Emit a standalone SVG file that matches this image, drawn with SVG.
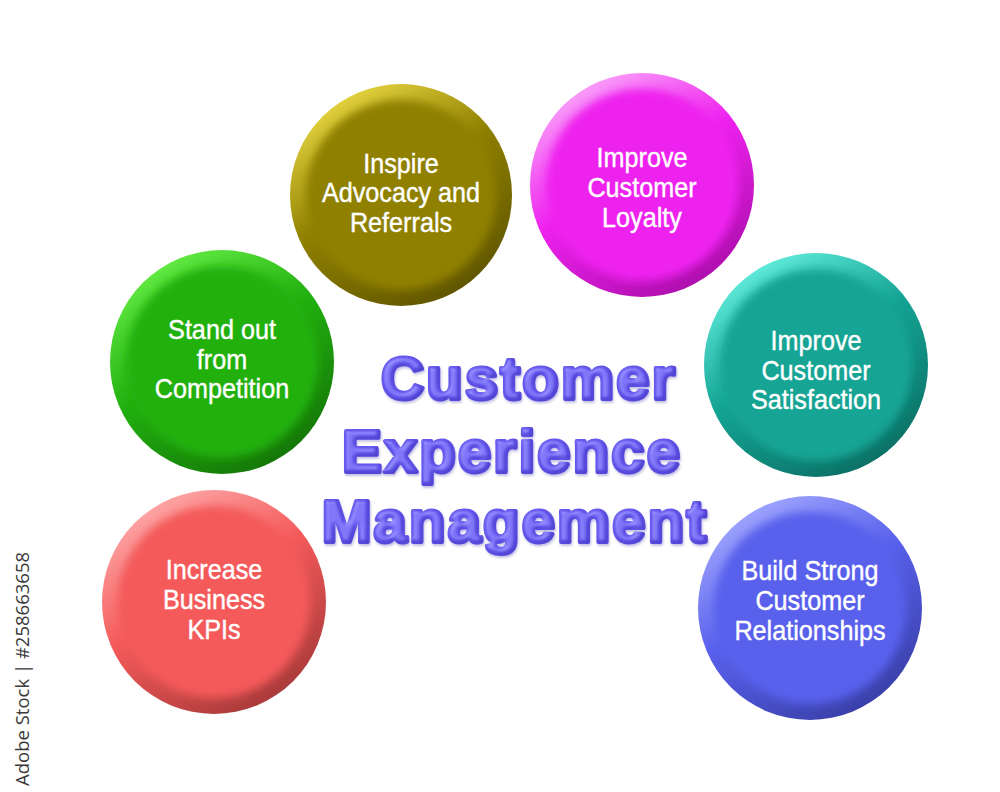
<svg xmlns="http://www.w3.org/2000/svg" width="1000" height="792" viewBox="0 0 1000 792">
<defs>
  <style>
    .lbl { font-family: "Liberation Sans", Arial, sans-serif; font-size: 28px; fill: #ffffff; text-anchor: middle; stroke: #ffffff; stroke-width: 0.4; }
    .ttl { font-family: "Liberation Sans", Arial, sans-serif; font-weight: bold; font-size: 60px; letter-spacing: 2px; text-anchor: middle; fill: #6456ee; stroke: #6456ee; stroke-width: 4; stroke-linejoin: round; stroke-linecap: round; }
    .wm { font-family: "Open Sans", "Noto Sans", sans-serif; font-size: 18.5px; fill: #3a3a3a; }
  </style>
  <filter id="soft" x="-10%" y="-10%" width="120%" height="120%">
    <feGaussianBlur stdDeviation="4"/>
  </filter>
  <filter id="bevel" x="-5%" y="-20%" width="110%" height="150%">
    <feGaussianBlur in="SourceAlpha" stdDeviation="2" result="b"/>
    <feOffset in="b" dx="-2" dy="-2.5" result="bo"/>
    <feComposite in="SourceAlpha" in2="bo" operator="out" result="edge"/>
    <feGaussianBlur in="edge" stdDeviation="1.2" result="edgeB"/>
    <feFlood flood-color="#2e22a8" flood-opacity="0.7" result="dk"/>
    <feComposite in="dk" in2="edgeB" operator="in" result="dk2"/>
    <feComposite in="dk2" in2="SourceAlpha" operator="in" result="inner"/>
    <feSpecularLighting in="b" surfaceScale="3" specularConstant="0.5" specularExponent="14" lighting-color="#ffffff" result="s">
      <feDistantLight azimuth="225" elevation="55"/>
    </feSpecularLighting>
    <feComposite in="s" in2="SourceAlpha" operator="in" result="sIn"/>
    <feComposite in="SourceGraphic" in2="sIn" operator="arithmetic" k1="0" k2="1" k3="0.35" k4="0" result="lit"/>
    <feOffset in="SourceAlpha" dx="1" dy="2" result="off"/>
    <feGaussianBlur in="off" stdDeviation="1.2" result="offB"/>
    <feFlood flood-color="#3a30a0" flood-opacity="0.3" result="fc"/>
    <feComposite in="fc" in2="offB" operator="in" result="sh"/>
    <feMerge><feMergeNode in="sh"/><feMergeNode in="lit"/><feMergeNode in="inner"/></feMerge>
  </filter>
  <linearGradient id="rOlive" x1="0.2" y1="0" x2="0.8" y2="1">
    <stop offset="0" stop-color="#f0de48"/><stop offset="0.45" stop-color="#8f8000"/><stop offset="1" stop-color="#5a5000"/>
  </linearGradient>
  <linearGradient id="rMag" x1="0.2" y1="0" x2="0.8" y2="1">
    <stop offset="0" stop-color="#fbb0fb"/><stop offset="0.45" stop-color="#ee22ee"/><stop offset="1" stop-color="#a60ca6"/>
  </linearGradient>
  <linearGradient id="rGreen" x1="0.2" y1="0" x2="0.8" y2="1">
    <stop offset="0" stop-color="#6cf24a"/><stop offset="0.45" stop-color="#22b010"/><stop offset="1" stop-color="#137006"/>
  </linearGradient>
  <linearGradient id="rTeal" x1="0.2" y1="0" x2="0.8" y2="1">
    <stop offset="0" stop-color="#6af4e4"/><stop offset="0.45" stop-color="#14a494"/><stop offset="1" stop-color="#0a6a60"/>
  </linearGradient>
  <linearGradient id="rRed" x1="0.2" y1="0" x2="0.8" y2="1">
    <stop offset="0" stop-color="#ffb0b0"/><stop offset="0.45" stop-color="#f45a5a"/><stop offset="1" stop-color="#a03636"/>
  </linearGradient>
  <linearGradient id="rBlue" x1="0.2" y1="0" x2="0.8" y2="1">
    <stop offset="0" stop-color="#a8aeff"/><stop offset="0.45" stop-color="#5860ec"/><stop offset="1" stop-color="#363ca0"/>
  </linearGradient>
</defs>
<rect width="1000" height="792" fill="#ffffff"/>

<g id="node-advocacy">
  <circle cx="401" cy="195" r="111" fill="url(#rOlive)"/>
  <circle cx="401" cy="195" r="95" fill="#8f8000" filter="url(#soft)"/>
  <g transform="translate(401,0) scale(0.9,1)">
    <text class="lbl" x="0" y="173">Inspire</text>
    <text class="lbl" x="0" y="202">Advocacy and</text>
    <text class="lbl" x="0" y="232">Referrals</text>
  </g>
</g>

<g id="node-loyalty">
  <circle cx="642" cy="185" r="112" fill="url(#rMag)"/>
  <circle cx="642" cy="185" r="96" fill="#ee22ee" filter="url(#soft)"/>
  <g transform="translate(642,0) scale(0.9,1)">
    <text class="lbl" x="0" y="167">Improve</text>
    <text class="lbl" x="0" y="197">Customer</text>
    <text class="lbl" x="0" y="227">Loyalty</text>
  </g>
</g>

<g id="node-competition">
  <circle cx="222" cy="362" r="112" fill="url(#rGreen)"/>
  <circle cx="222" cy="362" r="96" fill="#22b010" filter="url(#soft)"/>
  <g transform="translate(222,0) scale(0.9,1)">
    <text class="lbl" x="0" y="339">Stand out</text>
    <text class="lbl" x="0" y="369">from</text>
    <text class="lbl" x="0" y="398">Competition</text>
  </g>
</g>

<g id="node-satisfaction">
  <circle cx="816" cy="365" r="112" fill="url(#rTeal)"/>
  <circle cx="816" cy="365" r="96" fill="#14a494" filter="url(#soft)"/>
  <g transform="translate(816,0) scale(0.9,1)">
    <text class="lbl" x="0" y="350">Improve</text>
    <text class="lbl" x="0" y="380">Customer</text>
    <text class="lbl" x="0" y="409">Satisfaction</text>
  </g>
</g>

<g id="node-kpis">
  <circle cx="214" cy="602" r="112" fill="url(#rRed)"/>
  <circle cx="214" cy="602" r="96" fill="#f45a5a" filter="url(#soft)"/>
  <g transform="translate(214,0) scale(0.9,1)">
    <text class="lbl" x="0" y="579">Increase</text>
    <text class="lbl" x="0" y="609">Business</text>
    <text class="lbl" x="0" y="639">KPIs</text>
  </g>
</g>

<g id="node-relationships">
  <circle cx="810" cy="608" r="112" fill="url(#rBlue)"/>
  <circle cx="810" cy="608" r="96" fill="#5860ec" filter="url(#soft)"/>
  <g transform="translate(810,0) scale(0.9,1)">
    <text class="lbl" x="0" y="580">Build Strong</text>
    <text class="lbl" x="0" y="610">Customer</text>
    <text class="lbl" x="0" y="640">Relationships</text>
  </g>
</g>

<g id="title" filter="url(#bevel)">
  <text class="ttl" x="529" y="399">Customer</text>
  <text class="ttl" x="512" y="472">Experience</text>
  <text class="ttl" x="515" y="542">Management</text>
</g>

<g id="connectors"></g>

<text class="wm" transform="translate(29,786) rotate(-90)">Adobe Stock | #258663658</text>
</svg>
